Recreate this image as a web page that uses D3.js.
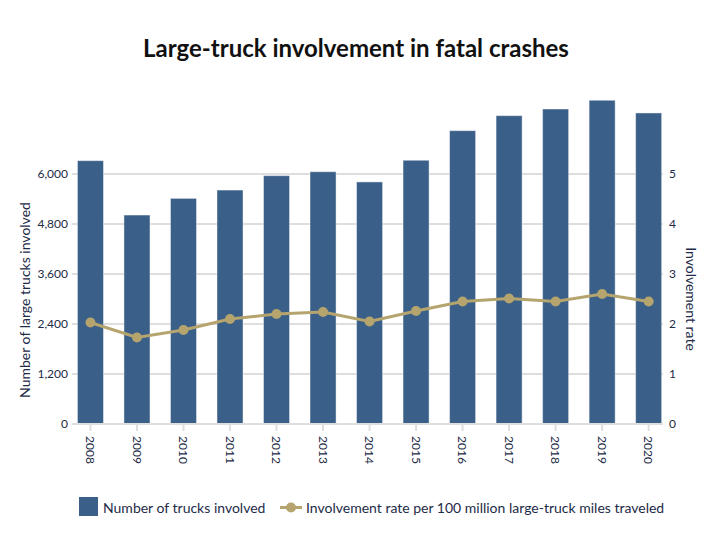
<!DOCTYPE html>
<html>
<head>
<meta charset="utf-8">
<script src="https://cdn.jsdelivr.net/npm/d3@7"></script>
<style>
  html, body { margin: 0; padding: 0; background: #fff; }
  svg { display: block; font-family: Lato, "Open Sans", sans-serif; }
</style>
</head>
<body>
<svg id="chart" width="710" height="547"></svg>
<script>
const years = ["2008","2009","2010","2011","2012","2013","2014","2015","2016","2017","2018","2019","2020"];
const trucks = [6320, 5015, 5415, 5615, 5960, 6055, 5810, 6330, 7040, 7400, 7560, 7770, 7465];
const rates = [2.03, 1.73, 1.88, 2.10, 2.20, 2.24, 2.05, 2.26, 2.45, 2.51, 2.45, 2.60, 2.45];
const leftTicks = [0, 1200, 2400, 3600, 4800, 6000];
const rightTicks = [0, 1, 2, 3, 4, 5];
const titleText = "Large-truck involvement in fatal crashes";
const leftTitle = "Number of large trucks involved";
const rightTitle = "Involvement rate";
const legendBar = "Number of trucks involved";
const legendLine = "Involvement rate per 100 million large-truck miles traveled";

const barColor = "#3a5f88";
const lineColor = "#b5a46e";
const textColor = "#1d2b47";
const gridColor = "#dedede";

const svg = d3.select("#chart");
const plotL = 72, plotR = 663, plotT = 99, plotB = 424;

const x = d3.scaleBand().domain(years).range([67.2, 671.9]).paddingInner(0.44).paddingOuter(0.22);
const yL = d3.scaleLinear().domain([0, 7800]).range([plotB, plotT]);
const yR = d3.scaleLinear().domain([0, 6.5]).range([plotB, plotT]);

// title
svg.append("text").attr("x", 356).attr("y", 57).attr("text-anchor", "middle")
  .attr("font-size", 24).attr("font-weight", 700).attr("fill", "#111").text(titleText);

// gridlines
svg.append("g").selectAll("line").data(leftTicks.filter(d => d > 0)).join("line")
  .attr("x1", plotL).attr("x2", plotR)
  .attr("y1", d => yL(d)).attr("y2", d => yL(d))
  .attr("stroke", gridColor).attr("stroke-width", 2);

// bars
svg.append("g").selectAll("rect").data(years).join("rect")
  .attr("x", (d) => x(d)).attr("width", x.bandwidth())
  .attr("y", (d, i) => yL(trucks[i])).attr("height", (d, i) => plotB - yL(trucks[i]))
  .attr("fill", barColor).attr("stroke", "#ffffff").attr("stroke-opacity", 0.45).attr("stroke-width", 1);

// baseline
svg.append("line").attr("x1", plotL).attr("x2", plotR).attr("y1", plotB).attr("y2", plotB)
  .attr("stroke", gridColor).attr("stroke-width", 2);

// x axis
const xAxis = svg.append("g").attr("transform", `translate(0,${plotB + 1})`)
  .call(d3.axisBottom(x).tickSize(6).tickSizeOuter(0));
xAxis.select(".domain").remove();
xAxis.selectAll(".tick line").attr("stroke", gridColor).attr("stroke-width", 2);
xAxis.selectAll(".tick text")
  .attr("font-size", 12).attr("fill", textColor).attr("font-family", "Lato")
  .attr("text-anchor", "start")
  .attr("transform", "rotate(90)")
  .attr("x", 11).attr("y", 0).attr("dy", "0.35em");

// left axis
const lAxis = svg.append("g").attr("transform", `translate(${plotL},0)`)
  .call(d3.axisLeft(yL).tickValues(leftTicks).tickSize(0).tickPadding(4).tickFormat(d3.format(",")));
lAxis.select(".domain").remove();
lAxis.selectAll(".tick text").attr("font-size", 12).attr("fill", textColor).attr("font-family", "Lato");

// right axis
const rAxis = svg.append("g").attr("transform", `translate(${plotR},0)`)
  .call(d3.axisRight(yR).tickValues(rightTicks).tickSize(0).tickPadding(6).tickFormat(d3.format("d")));
rAxis.select(".domain").remove();
rAxis.selectAll(".tick text").attr("font-size", 12).attr("fill", textColor).attr("font-family", "Lato");

// axis titles
svg.append("text").attr("transform", "translate(30,300) rotate(-90)").attr("text-anchor", "middle")
  .attr("font-size", 14).attr("fill", textColor).text(leftTitle);
svg.append("text").attr("transform", "translate(686,299) rotate(90)").attr("text-anchor", "middle")
  .attr("font-size", 14).attr("fill", textColor).text(rightTitle);

// line
const line = d3.line().x((d, i) => x(years[i]) + x.bandwidth() / 2).y(d => yR(d));
svg.append("path").datum(rates).attr("d", line).attr("fill", "none")
  .attr("stroke", lineColor).attr("stroke-width", 3);
svg.append("g").selectAll("circle").data(rates).join("circle")
  .attr("cx", (d, i) => x(years[i]) + x.bandwidth() / 2).attr("cy", d => yR(d))
  .attr("r", 5).attr("fill", lineColor);

// legend
const lg = svg.append("g");
lg.append("rect").attr("x", 79).attr("y", 497).attr("width", 19).attr("height", 19).attr("fill", barColor);
lg.append("text").attr("x", 103).attr("y", 513).attr("font-size", 14).attr("fill", textColor).text(legendBar);
lg.append("line").attr("x1", 280).attr("x2", 302).attr("y1", 507.5).attr("y2", 507.5)
  .attr("stroke", lineColor).attr("stroke-width", 3);
lg.append("circle").attr("cx", 291).attr("cy", 507.5).attr("r", 5).attr("fill", lineColor);
lg.append("text").attr("x", 306).attr("y", 513).attr("font-size", 14).attr("fill", textColor).text(legendLine);
</script>
</body>
</html>
